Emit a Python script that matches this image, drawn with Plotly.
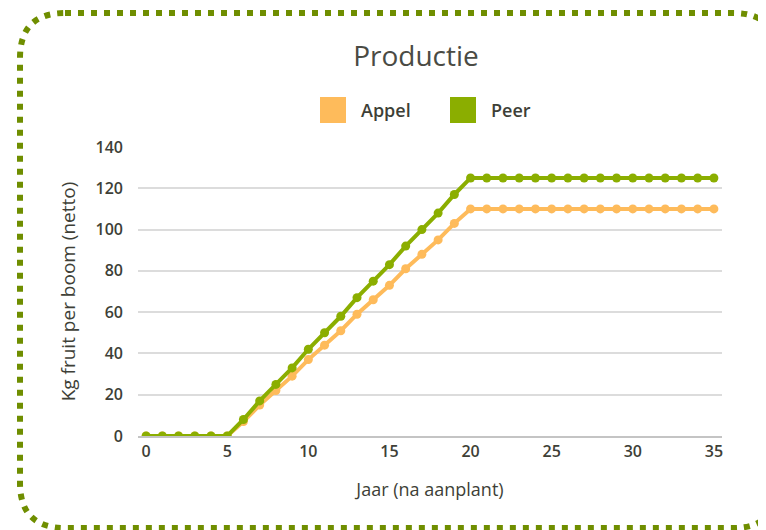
import plotly.graph_objects as go

years = list(range(0, 36))
appel = [0, 0, 0, 0, 0, 0, 7, 15, 22, 29, 37, 44, 51, 59, 66, 73, 81, 88, 95, 103] + [110] * 16
peer = [0, 0, 0, 0, 0, 0, 8, 17, 25, 33, 42, 50, 58, 67, 75, 83, 92, 100, 108, 117] + [125] * 16
series_names = ["Appel", "Peer"]
series_colors = ["#FEBB5B", "#8BAE00"]
x_ticks = [0, 5, 10, 15, 20, 25, 30, 35]
y_ticks = [0, 20, 40, 60, 80, 100, 120, 140]

OFF = 8  # page body margin
W, H = 766 - OFF, 530 - OFF
L, T = 138 - OFF, 147 - OFF
R, B = W - (722 - OFF), H - (436 - OFF)
pw, ph = W - L - R, H - T - B

def px(x):
    return (x - OFF - L) / pw

def py(y):
    return (H - B - (y - OFF)) / ph

fig = go.Figure()
for name, vals, col in zip(series_names, [appel, peer], series_colors):
    fig.add_trace(go.Scatter(
        x=years, y=vals, mode="lines+markers", name=name, showlegend=False,
        line=dict(color=col, width=4), marker=dict(color=col, size=9),
        hoverinfo="x+y+name"))

txt = "#3E3F37"

# legend drawn as squares + labels
legend_sq_x = [320, 450]
for name, col, sx in zip(series_names, series_colors, legend_sq_x):
    fig.add_shape(type="rect", xref="paper", yref="paper",
                  x0=px(sx), x1=px(sx + 26), y0=py(123), y1=py(97),
                  fillcolor=col, line=dict(width=0))
    fig.add_annotation(text=name, xref="paper", yref="paper", x=px(sx + 39), y=py(110),
                       xanchor="left", yanchor="middle", showarrow=False,
                       font=dict(size=18, color=txt, weight=600, family="Open Sans"))

# rounded dotted border
x0, x1, y0, y1, r = 20, 778, 13, 528, 45
path = (f"M {px(x0+r)},{py(y0)} L {px(x1-r)},{py(y0)} "
        f"Q {px(x1)},{py(y0)} {px(x1)},{py(y0+r)} "
        f"L {px(x1)},{py(y1-r)} Q {px(x1)},{py(y1)} {px(x1-r)},{py(y1)} "
        f"L {px(x0+r)},{py(y1)} Q {px(x0)},{py(y1)} {px(x0)},{py(y1-r)} "
        f"L {px(x0)},{py(y0+r)} Q {px(x0)},{py(y0)} {px(x0+r)},{py(y0)} Z")
fig.add_shape(type="path", path=path, xref="paper", yref="paper",
              line=dict(color="#6F8E00", width=6, dash="6px,7px"), layer="above")

fig.update_layout(
    width=W, height=H,
    margin=dict(l=L, r=R, t=T, b=B),
    paper_bgcolor="white", plot_bgcolor="white",
    showlegend=False,
    font=dict(family="Open Sans", color=txt),
    title=dict(text="Productie", x=(416 - OFF) / W, xanchor="center", y=1 - (56 - OFF) / H,
               yanchor="middle", font=dict(size=28, color="#4A4B44", family="Open Sans")),
    xaxis=dict(range=[-0.5, 35.5], tickvals=x_ticks, showgrid=False, zeroline=False,
               showline=True, linecolor="#C4C4C4", linewidth=2, ticks="",
               tickfont=dict(size=16, color=txt, weight=600),
               title=dict(text="Jaar (na aanplant)", font=dict(size=18, color=txt), standoff=22)),
    yaxis=dict(range=[0, 140], tickvals=y_ticks, showgrid=True, gridcolor="#DCDCDC", gridwidth=2,
               zeroline=False, showline=False, ticks="", ticklabelstandoff=14,
               tickfont=dict(size=16, color=txt, weight=600),
               title=dict(text="Kg fruit per boom (netto)", font=dict(size=19, color=txt), standoff=14)),
)

fig.write_html("out.html")
